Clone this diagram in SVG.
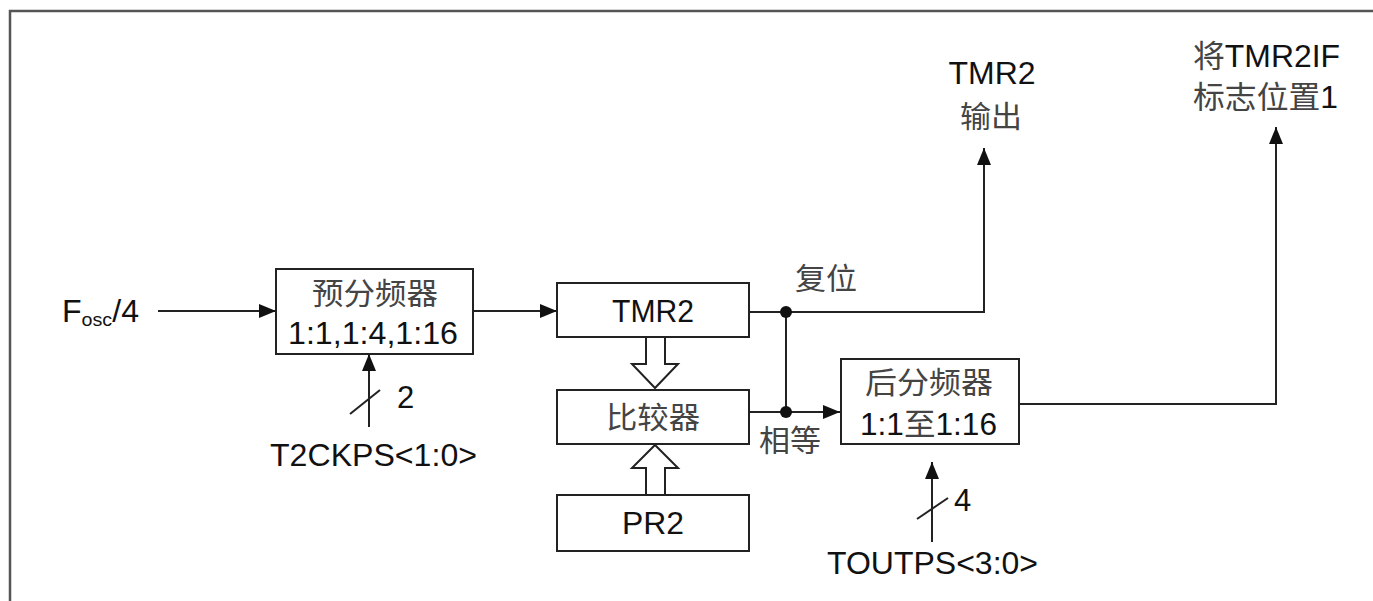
<svg xmlns="http://www.w3.org/2000/svg" width="1373" height="601" viewBox="0 0 1373 601">
<defs>
<marker id="ah" markerUnits="userSpaceOnUse" markerWidth="18" markerHeight="14" refX="17" refY="7" orient="auto">
<path d="M0,0 L17,7 L0,14 Z" fill="#111"/>
</marker>
<style>
.box{fill:#fff;stroke:#222;stroke-width:2}
.ln{fill:none;stroke:#222;stroke-width:2}
.lat{font-family:"Liberation Sans",Arial,sans-serif;fill:#111}
.cjk{font-family:"Noto Sans CJK SC","Liberation Sans",sans-serif;fill:#444}
.hol{fill:#fff;stroke:#222;stroke-width:2;stroke-linejoin:miter}
</style>
</defs>
<rect width="1373" height="601" fill="#fff"/>
<path d="M10,601 L10,11 L1373,11" fill="none" stroke="#555" stroke-width="2.5"/>

<g id="connectors">
<line class="ln" x1="158" y1="311" x2="276" y2="311" marker-end="url(#ah)"/>
<line class="ln" x1="473" y1="311" x2="557" y2="311" marker-end="url(#ah)"/>
<line class="ln" x1="369" y1="427" x2="369" y2="354" marker-end="url(#ah)"/>
<line class="ln" x1="350" y1="414" x2="380" y2="390"/>
<polyline class="ln" points="749,312 984,312 984,148" marker-end="url(#ah)"/>
<line class="ln" x1="786" y1="312" x2="786" y2="412"/>
<line class="ln" x1="749" y1="412" x2="840" y2="412" marker-end="url(#ah)"/>
<circle cx="786" cy="312" r="6" fill="#111"/>
<circle cx="786" cy="412" r="6" fill="#111"/>
<line class="ln" x1="932" y1="542" x2="932" y2="462" marker-end="url(#ah)"/>
<line class="ln" x1="917" y1="519" x2="948" y2="498"/>
<polyline class="ln" points="1019,404 1276,404 1276,127" marker-end="url(#ah)"/>
<path class="hol" d="M646,337 L646,364 L632,364 L655,388 L678,364 L665,364 L665,337"/>
<path class="hol" d="M646,495 L646,468 L632,468 L655,445 L678,468 L665,468 L665,495"/>
</g>

<g id="fosc">
<text class="lat" x="62" y="322" font-size="31" textLength="77" lengthAdjust="spacingAndGlyphs">F<tspan font-size="19" dy="4">osc</tspan><tspan dy="-4">/4</tspan></text>
</g>

<g id="prescaler">
<rect class="box" x="276" y="269" width="197" height="85"/>
<text class="cjk" x="375" y="304" font-size="30" text-anchor="middle" textLength="126" lengthAdjust="spacingAndGlyphs">预分频器</text>
<text class="lat" x="288" y="344" font-size="31" textLength="170" lengthAdjust="spacingAndGlyphs">1:1,1:4,1:16</text>
</g>

<g id="t2ckps">
<text class="lat" x="397" y="408" font-size="31">2</text>
<text class="lat" x="270" y="466" font-size="31" textLength="207" lengthAdjust="spacingAndGlyphs">T2CKPS&lt;1:0&gt;</text>
</g>

<g id="tmr2">
<rect class="box" x="557" y="283" width="192" height="54"/>
<text class="lat" x="653" y="322" font-size="31" text-anchor="middle" textLength="82" lengthAdjust="spacingAndGlyphs">TMR2</text>
</g>

<g id="comparator">
<rect class="box" x="557" y="390" width="192" height="54"/>
<text class="cjk" x="653" y="428" font-size="30" text-anchor="middle" textLength="94" lengthAdjust="spacingAndGlyphs">比较器</text>
</g>

<g id="pr2">
<rect class="box" x="557" y="495" width="192" height="56"/>
<text class="lat" x="653" y="534" font-size="31" text-anchor="middle" textLength="62" lengthAdjust="spacingAndGlyphs">PR2</text>
</g>

<g id="labels">
<text class="cjk" x="795" y="289" font-size="30" textLength="62" lengthAdjust="spacingAndGlyphs">复位</text>
<text class="cjk" x="759" y="451" font-size="30" textLength="62" lengthAdjust="spacingAndGlyphs">相等</text>
</g>

<g id="postscaler">
<rect class="box" x="841" y="359" width="178" height="85"/>
<text class="cjk" x="929" y="393" font-size="30" text-anchor="middle" textLength="128" lengthAdjust="spacingAndGlyphs">后分频器</text>
<text class="lat" x="860" y="435" font-size="31" textLength="137" lengthAdjust="spacingAndGlyphs">1:1<tspan class="cjk" fill="#333">至</tspan>1:16</text>
</g>

<g id="toutps">
<text class="lat" x="954" y="511" font-size="31">4</text>
<text class="lat" x="827" y="574" font-size="31" textLength="211" lengthAdjust="spacingAndGlyphs">TOUTPS&lt;3:0&gt;</text>
</g>

<g id="tmr2out">
<text class="lat" x="992" y="84" font-size="31" text-anchor="middle" textLength="87" lengthAdjust="spacingAndGlyphs">TMR2</text>
<text class="cjk" x="991" y="127" font-size="30" text-anchor="middle" textLength="62" lengthAdjust="spacingAndGlyphs">输出</text>
</g>

<g id="tmr2if">
<text class="lat" x="1193" y="67" font-size="31" textLength="147" lengthAdjust="spacingAndGlyphs"><tspan class="cjk">将</tspan>TMR2IF</text>
<text class="lat" x="1193" y="108" font-size="31" textLength="145" lengthAdjust="spacingAndGlyphs"><tspan class="cjk">标志位置</tspan>1</text>
</g>
</svg>
